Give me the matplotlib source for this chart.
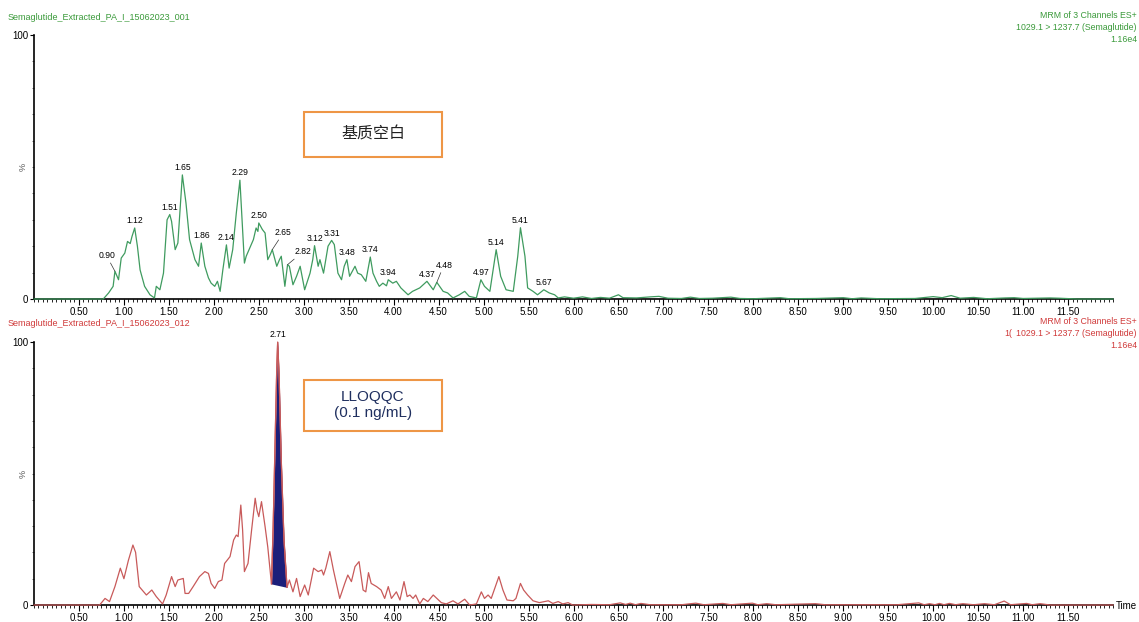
import matplotlib
matplotlib.use("Agg")
import matplotlib.pyplot as plt
import numpy as np
from matplotlib.patches import Rectangle
from matplotlib.ticker import MultipleLocator, FixedLocator

plt.rcParams["font.family"] = ["Liberation Sans", "Noto Sans CJK SC", "DejaVu Sans"]

# top trace: blank matrix (green), retention time in min vs relative intensity %
top_time = [0.0, 0.77, 0.83, 0.88, 0.90, 0.94, 0.97, 1.01, 1.04, 1.07, 1.09, 1.12, 1.15, 1.18,
            1.23, 1.29, 1.34, 1.36, 1.40, 1.44, 1.48, 1.51, 1.53, 1.57, 1.60, 1.65, 1.69, 1.73,
            1.79, 1.83, 1.86, 1.90, 1.94, 1.97, 2.01, 2.04, 2.07, 2.10, 2.14, 2.17, 2.21, 2.25,
            2.29, 2.31, 2.34, 2.36, 2.40, 2.44, 2.47, 2.49, 2.50, 2.54, 2.57, 2.60, 2.63, 2.65,
            2.70, 2.73, 2.75, 2.79, 2.82, 2.84, 2.88, 2.92, 2.96, 3.01, 3.07, 3.10, 3.12, 3.16,
            3.18, 3.22, 3.27, 3.31, 3.34, 3.38, 3.42, 3.45, 3.48, 3.51, 3.57, 3.60, 3.64, 3.69,
            3.74, 3.77, 3.81, 3.84, 3.88, 3.92, 3.94, 3.99, 4.03, 4.08, 4.16, 4.21, 4.29, 4.37,
            4.44, 4.48, 4.55, 4.60, 4.66, 4.73, 4.79, 4.84, 4.92, 4.97, 5.01, 5.07, 5.14, 5.19,
            5.25, 5.33, 5.38, 5.41, 5.46, 5.49, 5.55, 5.60, 5.67, 5.73, 5.79, 5.83, 5.90, 6.00,
            6.10, 6.20, 6.30, 6.40, 6.50, 6.55, 6.70, 6.85, 6.95, 7.05, 7.20, 7.30, 7.40, 7.55,
            7.75, 7.85, 8.00, 8.30, 8.40, 8.70, 9.00, 9.10, 9.20, 9.40, 9.80, 10.00, 10.10, 10.20,
            10.30, 10.45, 10.60, 10.80, 10.90, 11.00, 11.30, 11.40, 11.60, 12.00]
top_pct = [0.0, 0.0, 2.3, 4.8, 10.5, 7.3, 15.5, 17.4, 21.8, 21.0, 23.7, 26.9, 20.0, 11.0,
           4.8, 1.6, 0.4, 4.8, 3.5, 9.8, 30.0, 32.0, 29.4, 18.7, 21.2, 47.0, 36.4, 22.5,
           14.9, 12.4, 21.2, 12.4, 8.0, 6.0, 4.8, 6.7, 2.9, 11.0, 20.5, 11.7, 18.7, 32.6,
           45.0, 32.6, 13.6, 16.2, 19.3, 22.5, 26.9, 25.6, 28.8, 26.3, 25.0, 14.9, 17.0, 18.7,
           12.4, 14.9, 16.2, 4.8, 13.0, 12.4, 5.4, 8.6, 12.4, 3.5, 9.8, 14.9, 20.2, 12.4,
           14.9, 9.8, 20.0, 22.2, 20.6, 9.8, 7.3, 12.4, 14.9, 8.6, 12.4, 9.8, 9.2, 6.7,
           15.9, 9.8, 6.7, 4.8, 6.0, 5.0, 7.3, 6.0, 6.7, 4.2, 1.6, 2.9, 4.2, 6.7,
           3.5, 6.3, 2.9, 2.3, 0.4, 1.6, 2.9, 1.0, 0.4, 7.3, 4.8, 2.9, 18.7, 8.6,
           3.5, 2.9, 16.2, 27.0, 16.2, 4.2, 2.9, 1.6, 3.5, 2.3, 1.6, 0.4, 0.8, 0.3,
           0.8, 0.2, 0.6, 0.3, 1.6, 0.5, 0.4, 0.8, 1.0, 0.3, 0.2, 0.7, 0.2, 0.3,
           0.7, 0.2, 0.1, 0.5, 0.1, 0.2, 0.5, 0.1, 0.4, 0.1, 0.2, 0.9, 0.5, 1.3,
           0.3, 0.6, 0.1, 0.4, 0.5, 0.2, 0.4, 0.3, 0.0, 0.0]
top_peaks = [0.90, 1.12, 1.51, 1.65, 1.86, 2.14, 2.29, 2.50, 2.65, 2.82, 3.12, 3.31, 3.48,
             3.74, 3.94, 4.37, 4.48, 4.97, 5.14, 5.41, 5.67]

# bottom trace: LLOQ QC (red)
bot_time = [0.0, 0.73, 0.79, 0.84, 0.90, 0.96, 1.00, 1.05, 1.10, 1.13, 1.17, 1.22, 1.25,
            1.31, 1.36, 1.43, 1.47, 1.53, 1.57, 1.60, 1.66, 1.68, 1.72, 1.77, 1.84, 1.90,
            1.94, 1.97, 2.01, 2.05, 2.09, 2.12, 2.18, 2.22, 2.25, 2.27, 2.30, 2.32, 2.34,
            2.38, 2.42, 2.46, 2.48, 2.50, 2.53, 2.57, 2.60, 2.641, 2.66, 2.68, 2.70, 2.71,
            2.725, 2.75, 2.78, 2.814, 2.84, 2.88, 2.92, 2.96, 3.01, 3.05, 3.11, 3.16, 3.20,
            3.22, 3.245, 3.29, 3.33, 3.40, 3.456, 3.49, 3.53, 3.57, 3.615, 3.66, 3.69, 3.72,
            3.75, 3.81, 3.86, 3.90, 3.94, 3.975, 4.03, 4.07, 4.115, 4.15, 4.18, 4.215, 4.245,
            4.29, 4.33, 4.38, 4.44, 4.48, 4.53, 4.585, 4.66, 4.715, 4.79, 4.845, 4.92, 4.975,
            5.01, 5.05, 5.085, 5.17, 5.215, 5.26, 5.33, 5.36, 5.41, 5.445, 5.49, 5.55, 5.62,
            5.72, 5.77, 5.83, 5.88, 5.94, 5.99, 6.20, 6.40, 6.52, 6.58, 6.63, 6.69, 6.75,
            6.85, 7.20, 7.36, 7.45, 7.66, 7.75, 7.99, 8.05, 8.15, 8.25, 8.69, 8.80, 9.60,
            9.84, 9.90, 9.96, 10.02, 10.07, 10.12, 10.18, 10.25, 10.33, 10.45, 10.57, 10.68,
            10.79, 10.86, 11.04, 11.10, 11.19, 11.30, 12.00]
bot_pct = [0.0, 0.0, 2.5, 1.3, 7.0, 14.0, 10.0, 17.0, 22.8, 20.0, 7.0, 5.0, 3.8,
           5.7, 3.2, 0.4, 3.8, 10.8, 7.0, 9.5, 10.1, 4.4, 4.4, 7.0, 10.8, 12.7,
           12.0, 8.2, 6.3, 8.9, 9.5, 15.8, 18.4, 24.7, 26.6, 26.0, 38.0, 28.5, 12.7,
           15.8, 28.5, 40.6, 36.0, 33.6, 39.3, 29.8, 22.0, 8.0, 30.0, 60.0, 90.0, 100.0,
           88.0, 55.0, 25.0, 6.7, 9.5, 5.0, 10.1, 3.2, 7.6, 3.8, 14.0, 12.7, 13.3,
           11.4, 14.0, 20.3, 13.3, 2.5, 8.2, 11.4, 8.9, 14.6, 16.5, 5.7, 5.0, 12.3,
           8.2, 7.0, 5.7, 2.5, 7.0, 2.5, 5.0, 1.9, 8.9, 3.2, 3.8, 2.5, 3.8,
           0.4, 2.5, 1.3, 3.8, 2.5, 0.9, 0.4, 1.6, 0.4, 2.2, 0.0, 0.4, 5.0,
           2.5, 3.8, 2.5, 10.8, 5.7, 1.9, 1.6, 2.5, 8.2, 5.7, 3.8, 1.6, 0.9,
           1.6, 0.6, 1.3, 0.4, 0.9, 0.0, 0.2, 0.1, 0.8, 0.2, 0.7, 0.1, 0.6,
           0.1, 0.1, 0.7, 0.1, 0.6, 0.1, 0.7, 0.1, 0.5, 0.1, 0.5, 0.1, 0.1,
           0.8, 0.1, 0.5, 0.1, 0.6, 0.1, 0.6, 0.1, 0.5, 0.1, 0.5, 0.1,
           1.5, 0.1, 0.6, 0.1, 0.5, 0.0, 0.0]
integ_start, integ_end = 2.641, 2.814
bot_peaks = [2.71]

W, H = 1139, 622
GREEN = "#3f9b5f"
GREEN_TXT = "#3a9a3a"
RED = "#c85a5a"
RED_TXT = "#d03a3a"
NAVY = "#1c1f7a"
ORANGE = "#ee9646"


def fx(x):
    return x / W


def fy(y):
    return 1 - y / H


def style_axes(ax):
    ax.set_xlim(0, 12)
    ax.set_ylim(0, 100)
    for s in ("top", "right"):
        ax.spines[s].set_visible(False)
    ax.spines["left"].set_linewidth(1.2)
    ax.spines["bottom"].set_linewidth(1.2)
    ax.xaxis.set_major_locator(FixedLocator(np.arange(0.5, 12.0, 0.5)))
    ax.xaxis.set_minor_locator(MultipleLocator(0.05))
    ax.set_xticklabels([f"{v:.2f}" for v in np.arange(0.5, 12.0, 0.5)])
    ax.tick_params(axis="x", which="major", length=4, width=0.8, labelsize=7, pad=2)
    ax.tick_params(axis="x", which="minor", length=2.5, width=0.6)
    ax.yaxis.set_major_locator(FixedLocator([0, 100]))
    ax.yaxis.set_minor_locator(MultipleLocator(10))
    ax.set_yticklabels(["0", "100"])
    ax.tick_params(axis="y", which="major", length=3, width=0.8, labelsize=7, pad=1)
    ax.tick_params(axis="y", which="minor", length=1.2, width=0.4)
    ax.text(-0.006, 50, "%", transform=ax.get_yaxis_transform(), rotation=90,
            ha="right", va="center", fontsize=6.5, color="#555555")


fig = plt.figure(figsize=(W / 100, H / 100), dpi=100)
ax1 = fig.add_axes([fx(34), fy(299), fx(1113 - 34), (299 - 35) / H])
ax2 = fig.add_axes([fx(34), fy(605), fx(1113 - 34), (605 - 342) / H])
style_axes(ax1)
style_axes(ax2)

ax1.plot(top_time, top_pct, color=GREEN, lw=0.9, clip_on=False, zorder=3)
ax2.plot(bot_time, bot_pct, color=RED, lw=0.9, clip_on=False, zorder=3)

# integrated peak area with straight baseline
bt = np.array(bot_time)
bp = np.array(bot_pct)
m = (bt >= integ_start) & (bt <= integ_end)
base = np.interp(bt[m], [integ_start, integ_end],
                 [np.interp(integ_start, bt, bp), np.interp(integ_end, bt, bp)])
ax2.fill_between(bt[m], base, bp[m], color=NAVY, lw=0, zorder=2)
ax2.plot(bt[m], bp[m], color=RED, lw=0.9, zorder=4)

# peak labels
leader = {0.90: (-6, 8), 2.65: (8, 9), 2.82: (11, 6), 4.48: (5, 9)}
for p in top_peaks:
    yv = np.interp(p, top_time, top_pct)
    if p in leader:
        ax1.annotate(f"{p:.2f}", (p, yv), xytext=leader[p], textcoords="offset points",
                     ha="center", va="bottom", fontsize=6.2,
                     arrowprops=dict(arrowstyle="-", lw=0.5, color="#333333", shrinkA=0, shrinkB=0))
    else:
        ax1.annotate(f"{p:.2f}", (p, yv), xytext=(0, 2), textcoords="offset points",
                     ha="center", va="bottom", fontsize=6.2)
for p in bot_peaks:
    yv = np.interp(p, bot_time, bot_pct)
    ax2.annotate(f"{p:.2f}", (p, yv), xytext=(0, 2), textcoords="offset points",
                 ha="center", va="bottom", fontsize=6.2, annotation_clip=False)

# headers
hdr = ["MRM of 3 Channels ES+", "1029.1 > 1237.7 (Semaglutide)", "1.16e4"]
fig.text(fx(8), fy(17), "Semaglutide_Extracted_PA_I_15062023_001", color=GREEN_TXT,
         fontsize=6.5, va="center", ha="left")
for i, t in enumerate(hdr):
    fig.text(fx(1137), fy(16 + 11.5 * i), t, color=GREEN_TXT, fontsize=6.3, va="center", ha="right")
fig.text(fx(8), fy(324), "Semaglutide_Extracted_PA_I_15062023_012", color=RED_TXT,
         fontsize=6.5, va="center", ha="left")
for i, t in enumerate(hdr):
    fig.text(fx(1137), fy(322 + 11.5 * i), t, color=RED_TXT, fontsize=6.3, va="center", ha="right")
fig.text(fx(1004), fy(333.5), "1(", color=RED_TXT, fontsize=6.3, va="center", ha="left")
fig.text(fx(1116), fy(606), "Time", fontsize=7, va="center", ha="left")

# sample boxes
fig.patches.append(Rectangle((fx(304), fy(157)), fx(138), 45 / H, transform=fig.transFigure,
                             fill=False, edgecolor=ORANGE, lw=1.5))
fig.text(fx(373), fy(134.5), "基质空白", family=["Noto Sans CJK SC", "DejaVu Sans"],
         fontsize=11.5, ha="center", va="center", color="#222222")
fig.patches.append(Rectangle((fx(304), fy(431)), fx(138), 51 / H, transform=fig.transFigure,
                             fill=False, edgecolor=ORANGE, lw=1.5))
fig.text(fx(373), fy(405), "LLOQQC\n(0.1 ng/mL)", fontsize=11, ha="center", va="center",
         color="#1f2f5f", linespacing=1.2)

fig.savefig("out.png", dpi=100)
